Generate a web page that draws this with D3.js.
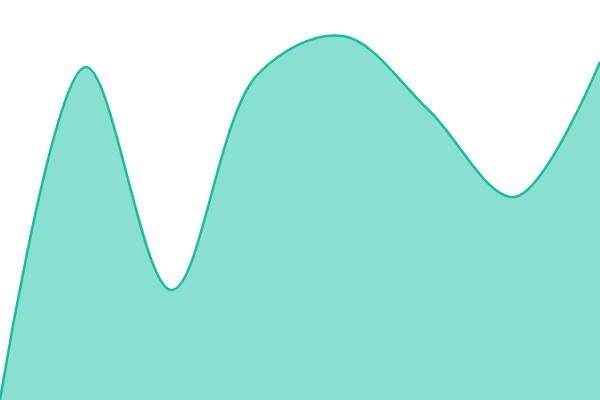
<!DOCTYPE html>
<html>
<head>
<meta charset="utf-8">
<script src="https://cdn.jsdelivr.net/npm/d3@7"></script>
<style>
  body { margin: 0; background: #fff; }
  svg { display: block; }
</style>
</head>
<body>
<svg width="600" height="400"></svg>
<script>
// de waarden van de grafiek, gelezen uit het plaatje
var steps = [0, 1, 2, 3, 4, 5, 6, 7];
var values = [0, 83.25, 27.5, 81.25, 91, 72.5, 50.75, 84.5];

var svg = d3.select("svg"),
    width = +svg.attr("width"),
    height = +svg.attr("height");

var x = d3.scaleLinear().domain([0, steps.length - 1]).range([0, width]),
    y = d3.scaleLinear().domain([0, 100]).range([height, 0]);

var data = steps.map(function(s, i) { return {step: s, value: values[i]}; });

var area = d3.area()
    .curve(d3.curveCatmullRom)
    .x(function(d) { return x(d.step); })
    .y0(height)
    .y1(function(d) { return y(d.value); });

var line = d3.line()
    .curve(d3.curveCatmullRom)
    .x(function(d) { return x(d.step); })
    .y(function(d) { return y(d.value); });

svg.append("path")
    .datum(data)
    .attr("fill", "#89e0d0")
    .attr("d", area);

svg.append("path")
    .datum(data)
    .attr("fill", "none")
    .attr("stroke", "#1abc9c")
    .attr("stroke-width", 2.5)
    .attr("d", line);
</script>
</body>
</html>
